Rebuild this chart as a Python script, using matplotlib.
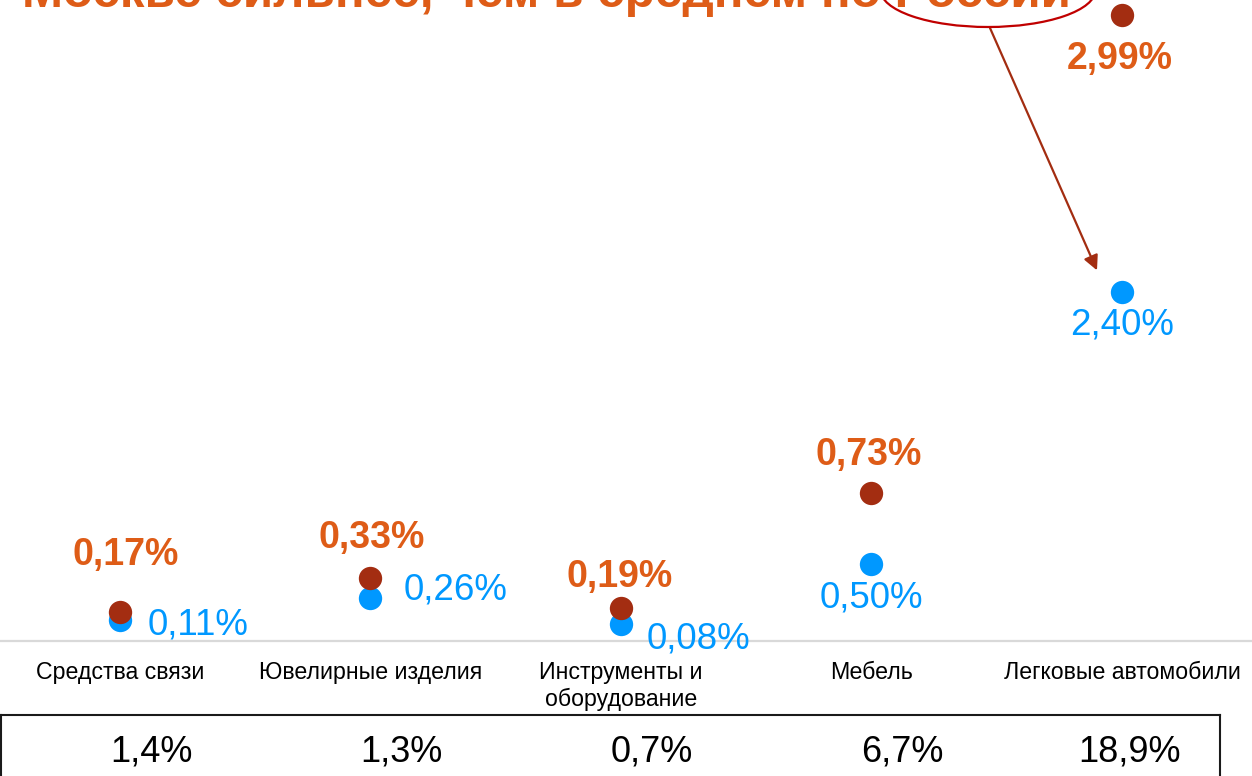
import matplotlib
matplotlib.use('Agg')
import matplotlib.pyplot as plt
import matplotlib.transforms as mtransforms
from matplotlib.patches import Ellipse
from matplotlib.lines import Line2D

# ---------------- data ----------------
categories = ['Средства связи', 'Ювелирные изделия', 'Инструменты и\nоборудование',
              'Мебель', 'Легковые автомобили']
moscow = [0.17, 0.33, 0.19, 0.73, 2.99]      # red series (bold labels)
russia = [0.11, 0.26, 0.08, 0.50, 2.40]      # blue series
table_values = ['1,4%', '1,3%', '0,7%', '6,7%', '18,9%']
title_text = 'Москве сильнее, чем в среднем по России'

# ---------------- layout / style ----------------
W, H = 1252, 776
FONT = ['Liberation Sans', 'DejaVu Sans']
plt.rcParams['font.family'] = FONT

RED_DOT = '#A32D11'
ORANGE = '#DE5C17'
BLUE = '#0098FF'

# label offsets in pixels relative to the dot (dx, dy up), horizontal alignment
red_offsets = [(6, 47), (1, 30), (-1, 21), (-3, 28), (-2, -54)]
blue_offsets = [(28, -15, 'left'), (33, -1, 'left'), (26, -25, 'left'),
                (0, -44, 'center'), (0, -42, 'center')]
table_dx = [31, 31, 31, 31, 8]

def fx(px):
    return px / W

def fy(py):
    return 1 - py / H

fig = plt.figure(figsize=(W / 100, H / 100), dpi=100)
fig.patch.set_facecolor('white')

ax = fig.add_axes([0, fy(641), 1, 641 / H])
ax2 = ax.twinx()

x = list(range(len(categories)))
ax.set_xlim(-0.479, 4.519)
ax.set_ylim(-0.0399, 4.4458)     # blue scale
ax2.set_ylim(0.0326, 3.0605)     # red scale

for a in (ax, ax2):
    a.set_xticks([])
    a.set_yticks([])
    for s in a.spines.values():
        s.set_visible(False)
ax.patch.set_visible(False)
ax.spines['bottom'].set_visible(True)
ax.spines['bottom'].set_color('#D9D9D9')
ax.spines['bottom'].set_linewidth(1.6)

# dots
ax.plot(x, russia, linestyle='none', marker='o', markersize=16.8,
        markerfacecolor=BLUE, markeredgewidth=0, clip_on=False, zorder=3)
ax2.plot(x, moscow, linestyle='none', marker='o', markersize=16.8,
         markerfacecolor=RED_DOT, markeredgewidth=0, clip_on=False, zorder=4)

def pct(v):
    return f'{v:.2f}%'.replace('.', ',')

for xi, v, (dx, dy) in zip(x, moscow, red_offsets):
    ax2.annotate(pct(v), xy=(xi, v), xytext=(dx, dy), textcoords='offset pixels',
                 ha='center', va='baseline', fontsize=27, fontweight='bold',
                 color=ORANGE, annotation_clip=False)

for xi, v, (dx, dy, ha) in zip(x, russia, blue_offsets):
    ax.annotate(pct(v), xy=(xi, v), xytext=(dx, dy), textcoords='offset pixels',
                ha=ha, va='baseline', fontsize=26.5, color=BLUE,
                annotation_clip=False)

# category labels
lab_trans = mtransforms.blended_transform_factory(ax.transData, fig.transFigure)
for xi, c in zip(x, categories):
    ax.text(xi, fy(661), c, transform=lab_trans, ha='center', va='top',
            fontsize=16.7, color='black', linespacing=1.2)

# table box
fig.add_artist(Line2D([fx(1), fx(1220)], [fy(715), fy(715)], transform=fig.transFigure,
                      color='#1a1a1a', linewidth=1.5))
fig.add_artist(Line2D([fx(1220), fx(1220)], [fy(715), fy(790)], transform=fig.transFigure,
                      color='#1a1a1a', linewidth=1.5))
fig.add_artist(Line2D([fx(1), fx(1)], [fy(715), fy(790)], transform=fig.transFigure,
                      color='#1a1a1a', linewidth=1.5))

for xi, val, dxp in zip(x, table_values, table_dx):
    tr = mtransforms.offset_copy(lab_trans, fig=fig, x=dxp, y=0, units='dots')
    ax.text(xi, fy(762), val, transform=tr, ha='center', va='baseline',
            fontsize=26, color='black')

# title (cut off at the top, as in the reference)
fig.text(fx(22), fy(7), title_text, ha='left', va='baseline', fontsize=35.6,
         fontweight='bold', color=ORANGE)

# ellipse around "России"
fig.add_artist(Ellipse((fx(988), fy(-10)), width=fx(215), height=74 / H,
                       transform=fig.transFigure, fill=False,
                       edgecolor='#C00000', linewidth=1.6))

# arrow from ellipse to the blue 2.40 point
tip = mtransforms.offset_copy(ax.transData, fig=fig, x=-25, y=22, units='dots')
ax.annotate('', xy=(x[-1], russia[-1]), xycoords=tip,
            xytext=(fx(990), fy(28)), textcoords='figure fraction',
            arrowprops=dict(arrowstyle='-|>', color=RED_DOT, lw=1.6,
                            mutation_scale=22, shrinkA=0, shrinkB=0),
            annotation_clip=False)

fig.savefig('out.png', dpi=100, facecolor='white')
